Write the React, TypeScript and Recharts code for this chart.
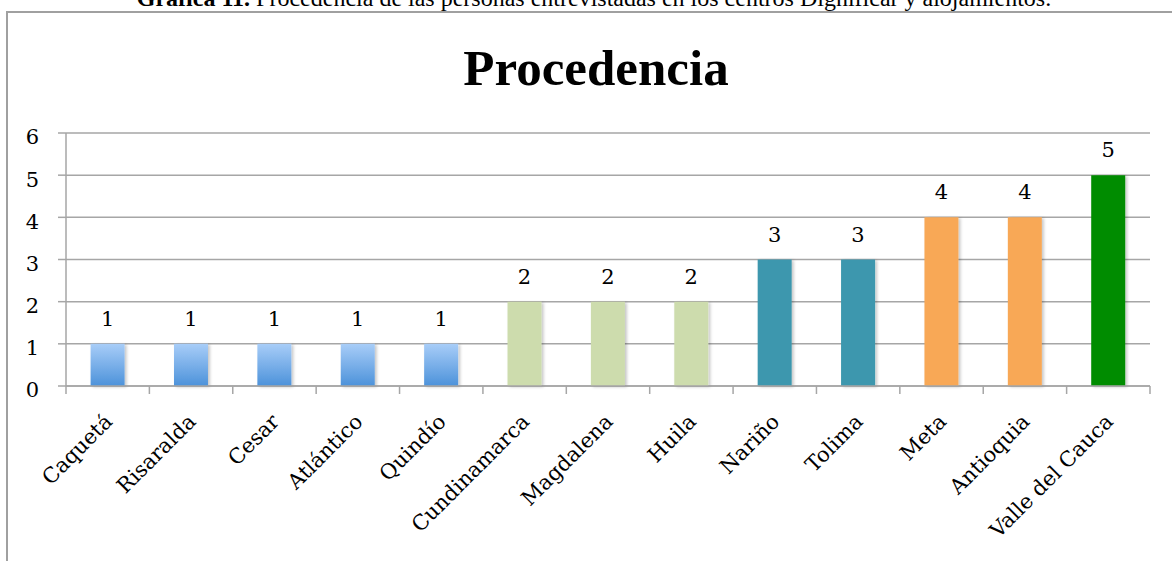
import React from "react";
import { BarChart, Bar, XAxis, YAxis, CartesianGrid, Cell, LabelList } from "recharts";

// ── datos ─────────────────────────────────────────────────────────────────────

const categories = [
  "Caquetá",
  "Risaralda",
  "Cesar",
  "Atlántico",
  "Quindío",
  "Cundinamarca",
  "Magdalena",
  "Huila",
  "Nariño",
  "Tolima",
  "Meta",
  "Antioquia",
  "Valle del Cauca",
];
const values = [1, 1, 1, 1, 1, 2, 2, 2, 3, 3, 4, 4, 5];
const yTicks = [0, 1, 2, 3, 4, 5, 6];

const caption = "Procedencia de las personas entrevistadas en los centros Dignificar y alojamientos.";
const title = "Procedencia";

// colores por barra (grupos por valor)
const barFills = [
  "url(#blueGrad)", "url(#blueGrad)", "url(#blueGrad)", "url(#blueGrad)", "url(#blueGrad)",
  "#cddcad", "#cddcad", "#cddcad",
  "#3d97ae", "#3d97ae",
  "#f8a856", "#f8a856",
  "#008c00",
];

const data = categories.map((name, i) => ({ name, value: values[i] }));

const SERIF = "'DejaVu Serif', serif";
const GRID = "#a6a6a6";

// ── tick del eje X: etiqueta girada + marcas en los límites de categoría ─────

function XTick(props: any) {
  const { x, y, payload, index } = props;
  const half = payload?.offset || 41.7;
  const last = index === categories.length - 1;
  return (
    <g>
      <line x1={x - half} x2={x - half} y1={y} y2={y + 8} stroke={GRID} strokeWidth={1.5} />
      {last && <line x1={x + half} x2={x + half} y1={y} y2={y + 8} stroke={GRID} strokeWidth={1.5} />}
      <text
        transform={`translate(${x + 6},${y + 37}) rotate(-45)`}
        textAnchor="end"
        fontFamily={SERIF}
        fontSize={21}
        fill="#000"
      >
        {payload.value}
      </text>
    </g>
  );
}

export default function App() {
  return (
    <div style={{ position: "absolute", left: 0, top: 0, width: 1172, height: 561, overflow: "hidden", background: "#fff" }}>
      {/* leyenda superior (recortada) */}
      <div
        style={{
          position: "absolute",
          left: 0,
          width: 1188,
          top: -16,
          textAlign: "center",
          fontFamily: "'Liberation Serif', serif",
          fontSize: 24,
          whiteSpace: "nowrap",
          lineHeight: "28px",
        }}
      >
        <b>Gráfica 11.</b> {caption}
      </div>

      {/* marco */}
      <div
        style={{
          position: "absolute",
          left: 6,
          top: 11,
          width: 1200,
          height: 600,
          border: "2px solid #a0a0a0",
        }}
      />

      {/* título */}
      <div
        style={{
          position: "absolute",
          left: 0,
          width: 1192,
          top: 38,
          textAlign: "center",
          fontFamily: "'Liberation Serif', serif",
          fontWeight: "bold",
          fontSize: 51,
          lineHeight: "60px",
        }}
      >
        {title}
      </div>

      <div style={{ position: "absolute", left: 0, top: 0 }}>
        <BarChart
          width={1172}
          height={561}
          data={data}
          margin={{ top: 133, right: 22, bottom: 0, left: 6 }}
          barCategoryGap="29.5%"
        >
          <defs>
            <linearGradient id="blueGrad" x1="0" y1="0" x2="0" y2="1">
              <stop offset="0%" stopColor="#a8cdf8" />
              <stop offset="100%" stopColor="#4c92da" />
            </linearGradient>
            <filter id="barShadow" x="-20%" y="-20%" width="150%" height="150%">
              <feDropShadow dx="2" dy="1" stdDeviation="1.5" floodColor="#000" floodOpacity="0.22" />
            </filter>
          </defs>
          <CartesianGrid vertical={false} stroke={GRID} strokeWidth={1.5} />
          <XAxis
            dataKey="name"
            interval={0}
            height={175}
            tickSize={0}
            tickMargin={0}
            tickLine={false}
            axisLine={{ stroke: GRID, strokeWidth: 1.5 }}
            tick={<XTick />}
          />
          <YAxis
            domain={[0, 6]}
            ticks={yTicks}
            width={60}
            tickSize={8}
            tickMargin={19}
            tickLine={{ stroke: GRID, strokeWidth: 1.5 }}
            axisLine={{ stroke: GRID, strokeWidth: 1.5 }}
            tick={{ fontFamily: SERIF, fontSize: 21, fill: "#000", dy: 4 }}
          />
          <Bar dataKey="value" isAnimationActive={false} filter="url(#barShadow)">
            {data.map((d, i) => (
              <Cell key={d.name} fill={barFills[i]} />
            ))}
            <LabelList
              dataKey="value"
              position="top"
              offset={18}
              style={{ fontFamily: SERIF, fontSize: 21, fill: "#000" }}
            />
          </Bar>
        </BarChart>
      </div>
    </div>
  );
}
